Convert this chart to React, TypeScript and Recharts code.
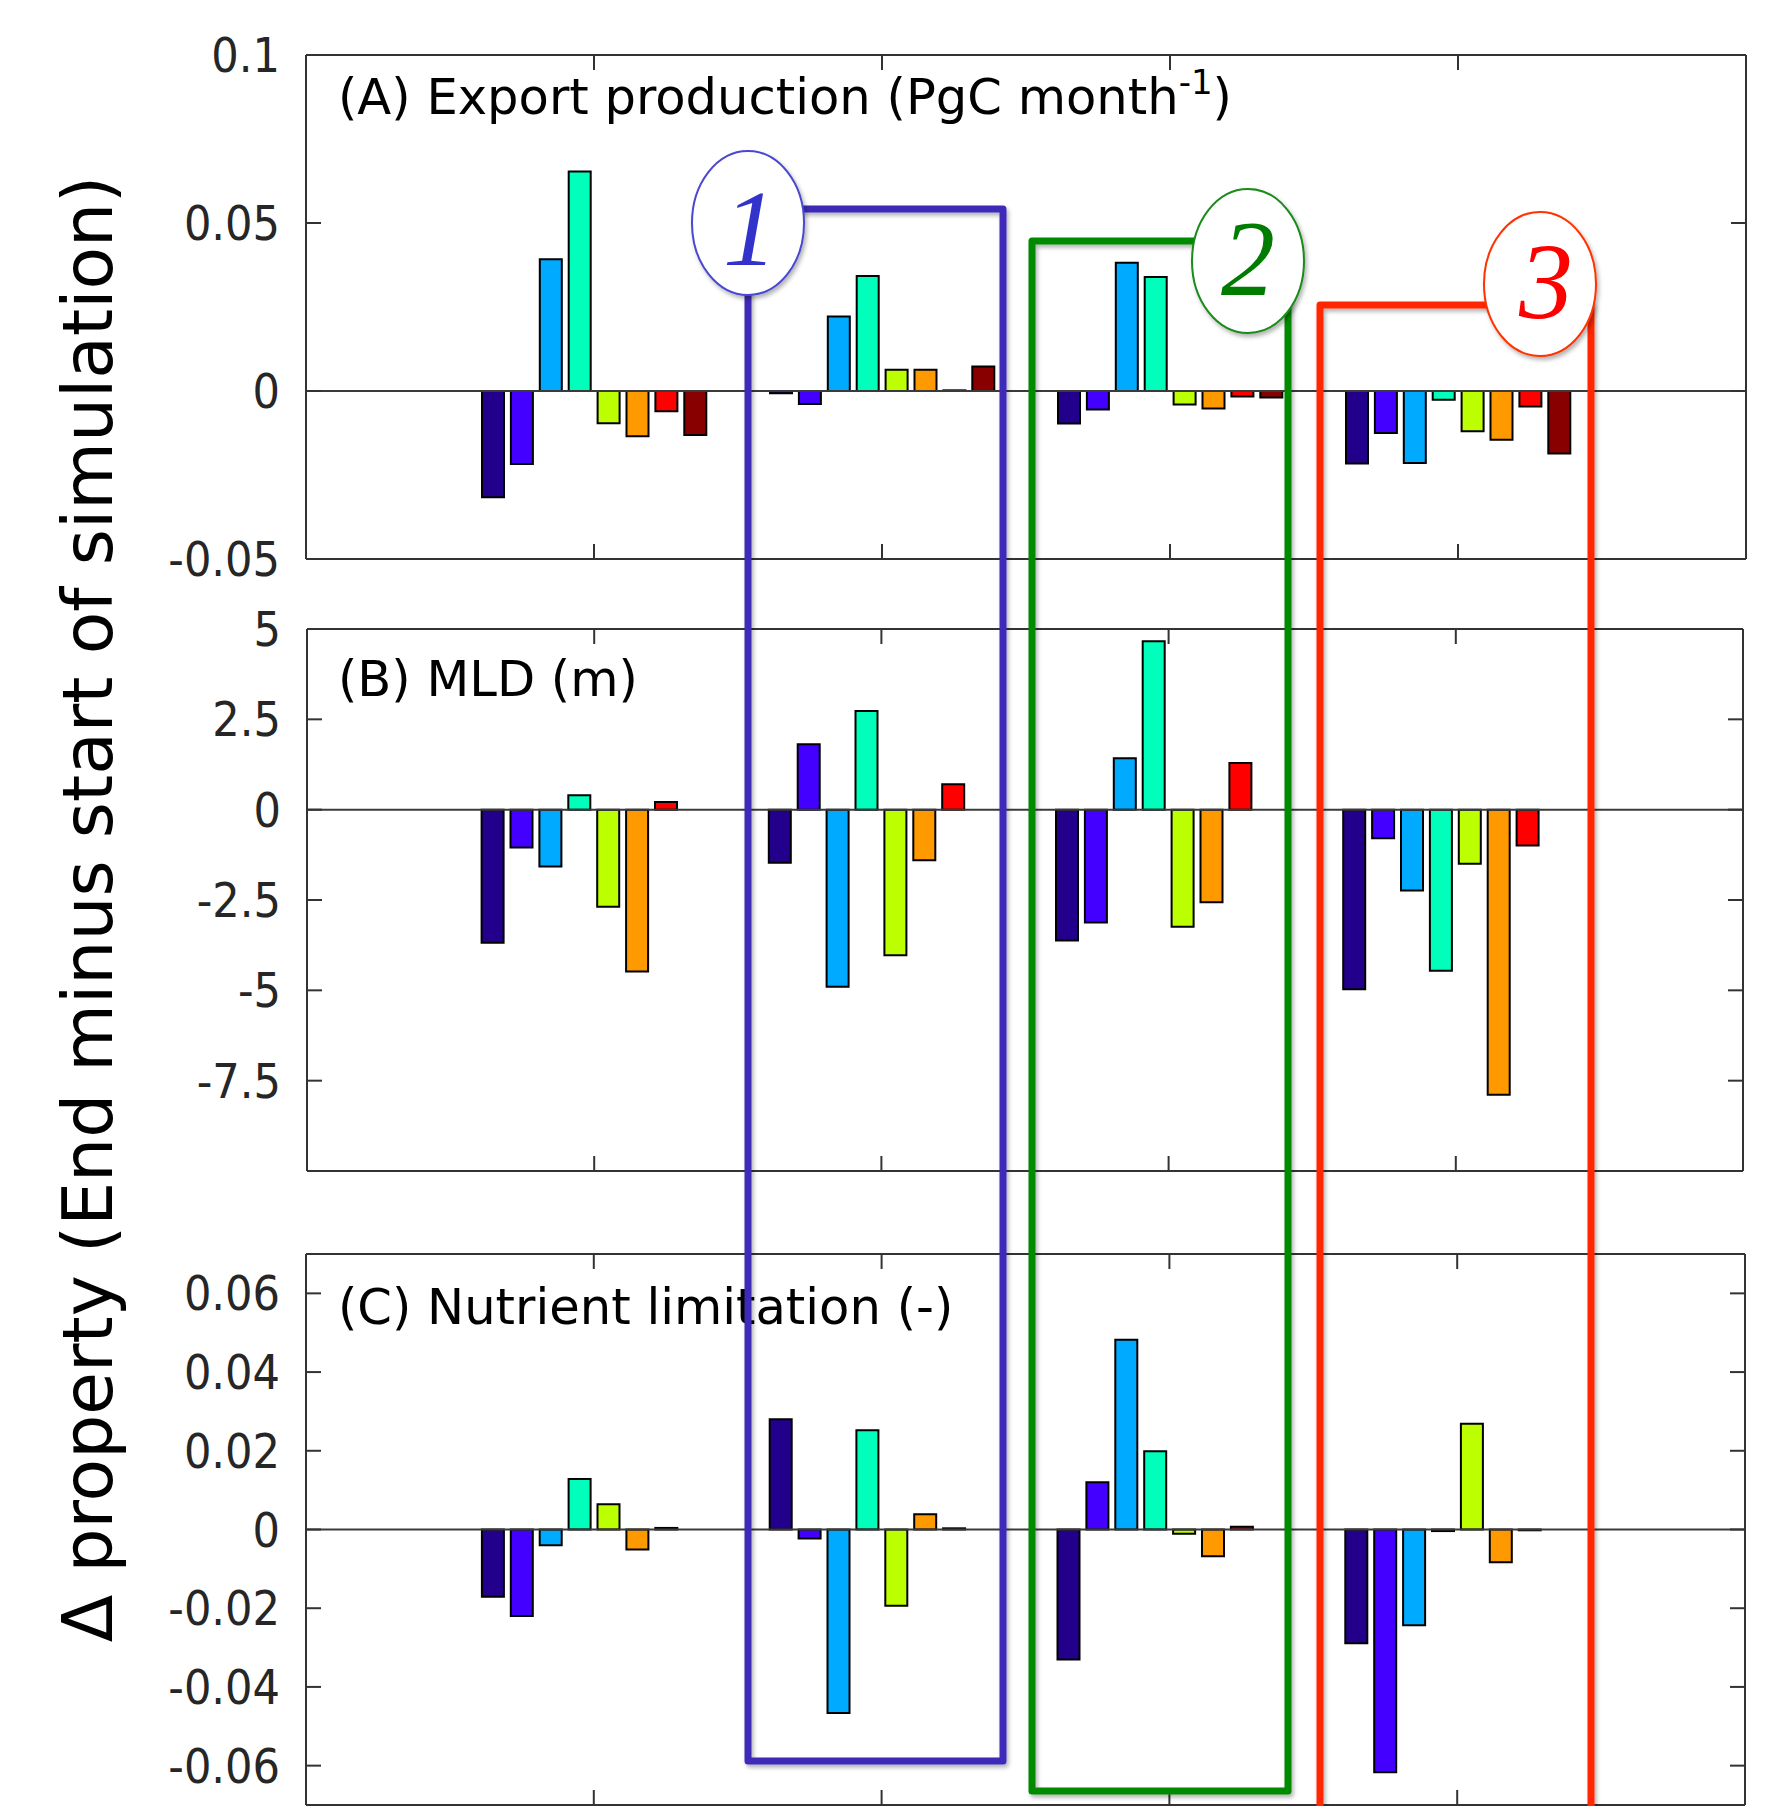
import React from "react";
import { BarChart, Bar, XAxis, YAxis, ReferenceLine } from "recharts";

const W = 1780;
const H = 1806;

const groups = ["G1", "G2", "G3", "G4"];
const seriesColors = ["#22008c", "#4400ff", "#00aaff", "#00ffbb", "#bbff00", "#ff9900", "#ff0000", "#880000"];

// one row per group, one value per coloured series
const exportProduction = [
  [-0.0316, -0.0217, 0.0392, 0.0653, -0.0096, -0.0135, -0.006, -0.0131],
  [-0.0007, -0.0039, 0.0222, 0.0342, 0.0063, 0.0063, 0.0002, 0.0073],
  [-0.0097, -0.0055, 0.0382, 0.0339, -0.004, -0.0052, -0.0016, -0.0019],
  [-0.0216, -0.0125, -0.0214, -0.0026, -0.012, -0.0145, -0.0046, -0.0186],
];
const mld = [
  [-3.68, -1.05, -1.57, 0.4, -2.69, -4.48, 0.21, 0],
  [-1.47, 1.81, -4.9, 2.73, -4.03, -1.4, 0.7, 0],
  [-3.62, -3.12, 1.42, 4.66, -3.24, -2.56, 1.29, 0],
  [-4.97, -0.79, -2.24, -4.46, -1.5, -7.89, -0.99, 0],
];
const nutrientLimitation = [
  [-0.0171, -0.022, -0.004, 0.0128, 0.0064, -0.0051, 0.0004, 0],
  [0.028, -0.0023, -0.0466, 0.0252, -0.0194, 0.0039, 0.0003, 0],
  [-0.033, 0.012, 0.0482, 0.0199, -0.0011, -0.0068, 0.0007, 0],
  [-0.0289, -0.0617, -0.0243, -0.0004, 0.0269, -0.0083, -0.0002, 0],
];

const ticksA = [-0.05, 0, 0.05, 0.1];
const ticksB = [-7.5, -5, -2.5, 0, 2.5, 5];
const ticksC = [-0.06, -0.04, -0.02, 0, 0.02, 0.04, 0.06];

const toRows = (values: number[][]) =>
  groups.map((g, gi) => {
    const row: Record<string, string | number> = { group: g };
    values[gi].forEach((v, si) => {
      row[`s${si}`] = v;
    });
    return row;
  });

const AXIS = "#333333";
const axisLine = { stroke: AXIS, strokeWidth: 2 };
const tickLine = { stroke: AXIS, strokeWidth: 2 };
// keeps the tick line but draws no label
const noLabel = () => <g />;

interface PanelProps {
  values: number[][];
  top: number;
  bottom: number;
  left: number;
  right: number;
  domain: [number, number];
  ticks: number[];
}

function Panel({ values, top, bottom, left, right, domain, ticks }: PanelProps) {
  const pad = 30;
  const band = (right - left) / 5;
  const xPad = { left: band / 2, right: band / 2 };
  return (
    <div style={{ position: "absolute", left: 0, top: top - pad }}>
      <BarChart
        width={W}
        height={bottom - top + 2 * pad}
        data={toRows(values)}
        margin={{ top: pad, bottom: pad, left: 0, right: W - right }}
        barSize={22}
        barGap={6.9}
      >
        <XAxis xAxisId="b" dataKey="group" orientation="bottom" mirror tick={noLabel} tickSize={15}
          padding={xPad} axisLine={axisLine} tickLine={tickLine} />
        <XAxis xAxisId="t" dataKey="group" orientation="top" mirror tick={noLabel} tickSize={15}
          padding={xPad} axisLine={axisLine} tickLine={tickLine} />
        <YAxis yAxisId="lab" orientation="left" width={left} domain={domain} ticks={ticks}
          allowDataOverflow interval={0} axisLine={false} tickLine={false} tickSize={0} tickMargin={26}
          tick={{ fontFamily: "DejaVu Sans", fontStretch: "condensed", fontSize: 48, fill: "#262626" }} />
        <YAxis yAxisId="l" orientation="left" mirror domain={domain} ticks={ticks} allowDataOverflow
          interval={0} tick={noLabel} tickSize={15} axisLine={axisLine} tickLine={tickLine} />
        <YAxis yAxisId="r" orientation="right" mirror width={60} domain={domain} ticks={ticks}
          allowDataOverflow interval={0} tick={noLabel} tickSize={15} axisLine={axisLine} tickLine={tickLine} />
        {seriesColors.map((c, i) => (
          <Bar key={i} xAxisId="b" yAxisId="lab" dataKey={`s${i}`} fill={c} stroke="#000"
            strokeWidth={2} isAnimationActive={false} />
        ))}
        <ReferenceLine xAxisId="b" yAxisId="lab" y={0} stroke="#3a3a3a" strokeWidth={2} />
      </BarChart>
    </div>
  );
}

const titleFont = { fontFamily: "DejaVu Sans", fontSize: 49.6, fill: "#000" };

function Overlay() {
  const digit = { fontFamily: "Liberation Serif", fontStyle: "italic", fontSize: 108, textAnchor: "middle" as const };
  return (
    <svg width={W} height={H} style={{ position: "absolute", left: 0, top: 0, pointerEvents: "none" }}>
      <defs>
        <filter id="sh" x="-10%" y="-10%" width="130%" height="130%">
          <feDropShadow dx="2" dy="3" stdDeviation="2" floodColor="#000" floodOpacity="0.3" />
        </filter>
      </defs>

      <text {...titleFont} x={338} y={114}>
        (A) Export production (PgC month<tspan fontSize={34} dy={-20}>-1</tspan>
        <tspan dy={20}>)</tspan>
      </text>
      <text {...titleFont} x={338} y={696}>(B) MLD (m)</text>
      <text {...titleFont} x={338} y={1324}>(C) Nutrient limitation (-)</text>

      <text fontFamily="DejaVu Sans" fontSize={69.5} fill="#000" textAnchor="middle"
        transform="translate(112,909) rotate(-90)">
        Δ property (End minus start of simulation)
      </text>

      <g fill="none" strokeWidth={7} strokeLinejoin="round" filter="url(#sh)">
        <rect x={748} y={209} width={255} height={1552} stroke="#3c2bb8" />
        <rect x={1032} y={241} width={256} height={1550} stroke="#008a00" />
        <rect x={1320} y={305} width={271} height={1600} stroke="#ff2800" />
      </g>

      <g filter="url(#sh)" fill="#fff" strokeWidth={2}>
        <ellipse cx={748} cy={223} rx={56} ry={72} stroke="#4a48d0" />
        <ellipse cx={1248} cy={261} rx={56} ry={72} stroke="#1a8a1a" />
        <ellipse cx={1540} cy={284} rx={56} ry={72} stroke="#ff3300" />
      </g>
      <text {...digit} x={750} y={265} fill="#3333cc">1</text>
      <text {...digit} x={1248} y={295} fill="#007c00">2</text>
      <text {...digit} x={1546} y={318} fill="#ff0000">3</text>
    </svg>
  );
}

export default function App() {
  return (
    <div style={{ position: "absolute", left: 0, top: 0, width: W, height: H, overflow: "hidden", background: "#fff" }}>
      <Panel values={exportProduction} top={55} bottom={559} left={306} right={1746} domain={[-0.05, 0.1]} ticks={ticksA} />
      <Panel values={mld} top={629} bottom={1171} left={307} right={1743} domain={[-10, 5]} ticks={ticksB} />
      <Panel values={nutrientLimitation} top={1254} bottom={1805} left={306} right={1745} domain={[-0.07, 0.07]} ticks={ticksC} />
      <Overlay />
    </div>
  );
}
